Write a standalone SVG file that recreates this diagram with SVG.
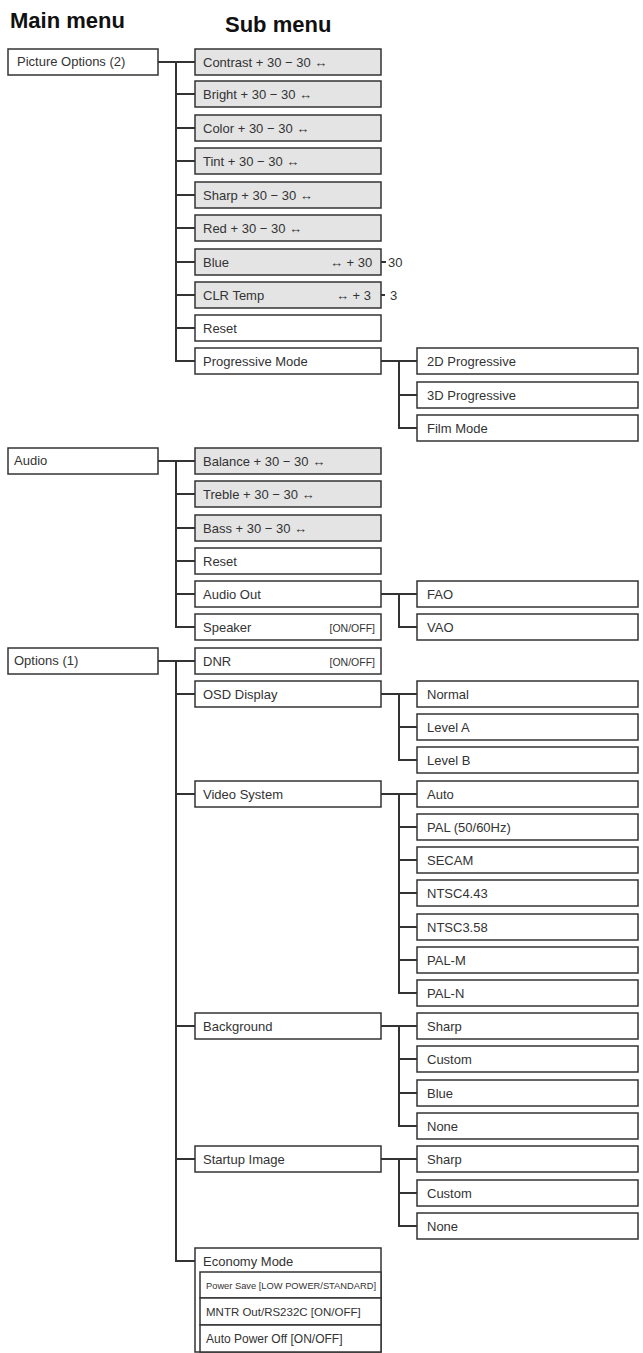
<svg xmlns="http://www.w3.org/2000/svg" width="643" height="1353" viewBox="0 0 643 1353">
<style>
text{font-family:"Liberation Sans",Arial,sans-serif;font-size:13px;fill:#333}
.t{font-size:22px;font-weight:bold;fill:#111}
rect{stroke:#333;stroke-width:1.5;fill:#fff}
.g{fill:#e4e4e4}
.c{stroke:#333;stroke-width:2;fill:none}
.s{font-size:10.5px}
</style>
<rect x="0" y="0" width="643" height="1353" style="stroke:none;fill:#fff"/>
<text class="t" x="10" y="28">Main menu</text>
<text class="t" x="225" y="32">Sub menu</text>
<g id="connectors">
<path class="c" d="M158 62H195M176 62V361H195M176 94H195M176 128H195M176 161H195M176 195H195M176 228H195M176 262H195M176 295H195M176 328H195"/>
<path class="c" d="M381 361H417M399 361V428H417M399 395H417"/>
<path class="c" d="M158 461H195M176 461V627H195M176 494H195M176 528H195M176 561H195M176 594H195"/>
<path class="c" d="M381 594H417M399 594V627H417"/>
<path class="c" d="M158 661H195M176 661V1261H195M176 694H195M176 794H195M176 1026H195M176 1159H195"/>
<path class="c" d="M381 694H417M399 694V760H417M399 727H417"/>
<path class="c" d="M381 794H417M399 794V993H417M399 827H417M399 860H417M399 893H417M399 927H417M399 960H417"/>
<path class="c" d="M381 1026H417M399 1026V1126H417M399 1059H417M399 1093H417"/>
<path class="c" d="M381 1159H417M399 1159V1226H417M399 1193H417"/>
<path class="c" d="M381 295H385M381 262H386"/>
</g>
<g id="main-picture"><rect x="8" y="49" width="150" height="26"/><text x="17" y="66">Picture Options (2)</text></g>
<g id="main-audio"><rect x="8" y="448" width="150" height="26"/><text x="14" y="465">Audio</text></g>
<g id="main-options"><rect x="8" y="648" width="150" height="26"/><text x="14" y="665">Options (1)</text></g>
<g id="contrast"><rect class="g" x="195" y="49" width="186" height="26"/><text x="203" y="67">Contrast  + 30 − 30  ↔</text></g>
<g id="bright"><rect class="g" x="195" y="81" width="186" height="26"/><text x="203" y="99">Bright  + 30 − 30      ↔</text></g>
<g id="color"><rect class="g" x="195" y="115" width="186" height="26"/><text x="203" y="133">Color  + 30 − 30       ↔</text></g>
<g id="tint"><rect class="g" x="195" y="148" width="186" height="26"/><text x="203" y="166">Tint  + 30 − 30          ↔</text></g>
<g id="sharp"><rect class="g" x="195" y="182" width="186" height="26"/><text x="203" y="200">Sharp  + 30 − 30      ↔</text></g>
<g id="red"><rect class="g" x="195" y="215" width="186" height="26"/><text x="203" y="233">Red  + 30 − 30         ↔</text></g>
<g id="blue"><rect class="g" x="195" y="249" width="186" height="26"/><text x="203" y="267">Blue</text><text x="330" y="267">↔ + 30</text><text x="388" y="267">30</text></g>
<g id="clrtemp"><rect class="g" x="195" y="282" width="186" height="26"/><text x="203" y="300">CLR Temp</text><text x="336" y="300">↔ + 3</text><text x="390" y="300">3</text></g>
<g id="reset1"><rect x="195" y="315" width="186" height="26"/><text x="203" y="333">Reset</text></g>
<g id="progressive"><rect x="195" y="348" width="186" height="26"/><text x="203" y="366">Progressive Mode</text></g>
<g id="p2d"><rect x="417" y="348" width="221" height="26"/><text x="427" y="366">2D Progressive</text></g>
<g id="p3d"><rect x="417" y="382" width="221" height="26"/><text x="427" y="400">3D Progressive</text></g>
<g id="film"><rect x="417" y="415" width="221" height="26"/><text x="427" y="433">Film Mode</text></g>
<g id="balance"><rect class="g" x="195" y="448" width="186" height="26"/><text x="203" y="466">Balance  + 30 − 30  ↔</text></g>
<g id="treble"><rect class="g" x="195" y="481" width="186" height="26"/><text x="203" y="499">Treble  + 30 − 30    ↔</text></g>
<g id="bass"><rect class="g" x="195" y="515" width="186" height="26"/><text x="203" y="533">Bass  + 30 − 30       ↔</text></g>
<g id="reset2"><rect x="195" y="548" width="186" height="26"/><text x="203" y="566">Reset</text></g>
<g id="audioout"><rect x="195" y="581" width="186" height="26"/><text x="203" y="599">Audio Out</text></g>
<g id="speaker"><rect x="195" y="614" width="186" height="26"/><text x="203" y="632">Speaker</text><text class="s" x="375" y="632" text-anchor="end">[ON/OFF]</text></g>
<g id="fao"><rect x="417" y="581" width="221" height="26"/><text x="427" y="599">FAO</text></g>
<g id="vao"><rect x="417" y="614" width="221" height="26"/><text x="427" y="632">VAO</text></g>
<g id="dnr"><rect x="195" y="648" width="186" height="26"/><text x="203" y="666">DNR</text><text class="s" x="375" y="666" text-anchor="end">[ON/OFF]</text></g>
<g id="osd"><rect x="195" y="681" width="186" height="26"/><text x="203" y="699">OSD Display</text></g>
<g id="normal"><rect x="417" y="681" width="221" height="26"/><text x="427" y="699">Normal</text></g>
<g id="levela"><rect x="417" y="714" width="221" height="26"/><text x="427" y="732">Level A</text></g>
<g id="levelb"><rect x="417" y="747" width="221" height="26"/><text x="427" y="765">Level B</text></g>
<g id="videosys"><rect x="195" y="781" width="186" height="26"/><text x="203" y="799">Video System</text></g>
<g id="auto"><rect x="417" y="781" width="221" height="26"/><text x="427" y="799">Auto</text></g>
<g id="pal"><rect x="417" y="814" width="221" height="26"/><text x="427" y="832">PAL (50/60Hz)</text></g>
<g id="secam"><rect x="417" y="847" width="221" height="26"/><text x="427" y="865">SECAM</text></g>
<g id="ntsc443"><rect x="417" y="880" width="221" height="26"/><text x="427" y="898">NTSC4.43</text></g>
<g id="ntsc358"><rect x="417" y="914" width="221" height="26"/><text x="427" y="932">NTSC3.58</text></g>
<g id="palm"><rect x="417" y="947" width="221" height="26"/><text x="427" y="965">PAL-M</text></g>
<g id="paln"><rect x="417" y="980" width="221" height="26"/><text x="427" y="998">PAL-N</text></g>
<g id="background"><rect x="195" y="1013" width="186" height="26"/><text x="203" y="1031">Background</text></g>
<g id="bgsharp"><rect x="417" y="1013" width="221" height="26"/><text x="427" y="1031">Sharp</text></g>
<g id="bgcustom"><rect x="417" y="1046" width="221" height="26"/><text x="427" y="1064">Custom</text></g>
<g id="bgblue"><rect x="417" y="1080" width="221" height="26"/><text x="427" y="1098">Blue</text></g>
<g id="bgnone"><rect x="417" y="1113" width="221" height="26"/><text x="427" y="1131">None</text></g>
<g id="startup"><rect x="195" y="1146" width="186" height="26"/><text x="203" y="1164">Startup Image</text></g>
<g id="susharp"><rect x="417" y="1146" width="221" height="26"/><text x="427" y="1164">Sharp</text></g>
<g id="sucustom"><rect x="417" y="1180" width="221" height="26"/><text x="427" y="1198">Custom</text></g>
<g id="sunone"><rect x="417" y="1213" width="221" height="26"/><text x="427" y="1231">None</text></g>
<g id="economy">
<rect x="195" y="1248" width="186" height="104"/>
<text x="203" y="1266">Economy Mode</text>
<rect x="200" y="1272" width="181" height="26"/>
<text x="206" y="1289" style="font-size:9.5px" textLength="170" lengthAdjust="spacingAndGlyphs">Power Save [LOW POWER/STANDARD]</text>
<rect x="200" y="1298" width="181" height="27"/>
<text x="206" y="1316" style="font-size:11.5px">MNTR Out/RS232C  [ON/OFF]</text>
<rect x="200" y="1325" width="181" height="27"/>
<text x="206" y="1343" style="font-size:12px">Auto Power Off  [ON/OFF]</text>
</g>
</svg>
